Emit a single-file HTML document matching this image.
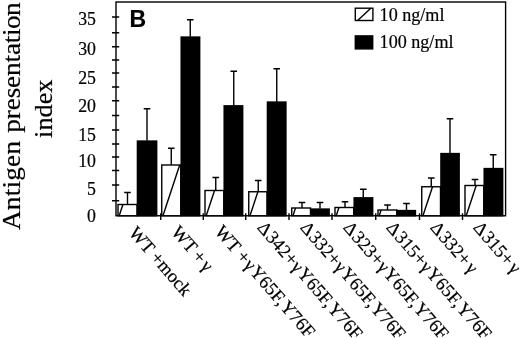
<!DOCTYPE html>
<html lang="en"><head><meta charset="utf-8"><title>Antigen presentation index</title>
<style>html,body{margin:0;padding:0;background:#fff}svg{display:block}text{font-family:"Liberation Serif","DejaVu Serif",serif;fill:#000;stroke:#000;stroke-width:.2px}.b{font-family:"Liberation Sans","DejaVu Sans",sans-serif;font-weight:bold}</style></head><body>
<svg width="520" height="338" viewBox="0 0 520 338">
<rect width="520" height="338" fill="#fff"/>
<g fill="none" stroke="#000" stroke-width="1.4">
<rect x="116.0" y="2.0" width="389.6" height="213.75"/>
<path d="M112 17H119.2M112 32.75H119.2M112 46.75H119.2M112 60H119.2M112 73H119.2M112 87H119.2M112 100.75H119.2M112 115.5H119.2M112 130H119.2M112 144H119.2M112 157H119.2M112 170.5H119.2M112 185H119.2M112 200.75H119.2M160.75 213.2V220M203.25 213.2V220M245.75 213.2V220M289 213.2V220M332 213.2V220M375.75 213.2V220M419.5 213.2V220M462.5 213.2V220"/>
</g>
<g stroke="#000" stroke-width="1.4">
<path fill="none" d="M127.5 204.5V192.5M124.2 192.5H130.8M147 140.75V108.75M143.7 108.75H150.3"/>
<rect x="118" y="204.5" width="19" height="11.25" fill="#fff"/>
<path fill="none" d="M119.2 215.75L122.91 204.5"/>
<rect x="136.7" y="140.35" width="20.7" height="76.1" fill="#000" stroke="none"/>
<path fill="none" d="M171.25 165V148.25M167.95 148.25H174.55M190.25 36.75V19.75M186.95 19.75H193.55"/>
<rect x="161.75" y="165" width="19.0" height="50.75" fill="#fff"/>
<path fill="none" d="M162.95 215.75L179.70 165"/>
<rect x="180.45" y="36.35" width="19.95" height="180.1" fill="#000" stroke="none"/>
<path fill="none" d="M215.75 190.5V177.5M212.45 177.5H219.05M233.75 105.5V71.25M230.45 71.25H237.05"/>
<rect x="205" y="190.5" width="18.75" height="25.25" fill="#fff"/>
<path fill="none" d="M206.2 215.75L214.53 190.5"/>
<rect x="223.45" y="105.1" width="19.95" height="111.35" fill="#000" stroke="none"/>
<path fill="none" d="M258.25 191.75V180.5M254.95 180.5H261.55M276.75 101.75V68.75M273.45 68.75H280.05"/>
<rect x="248.75" y="191.75" width="18.25" height="24.0" fill="#fff"/>
<path fill="none" d="M249.95 215.75L257.87 191.75"/>
<rect x="266.7" y="101.35" width="19.95" height="115.1" fill="#000" stroke="none"/>
<path fill="none" d="M302 208V202.5M298.7 202.5H305.3M320 208.75V202.5M316.7 202.5H323.3"/>
<rect x="291.75" y="208" width="18.75" height="7.75" fill="#fff"/>
<path fill="none" d="M292.95 215.75L295.51 208"/>
<rect x="310.2" y="208.35" width="19.7" height="8.1" fill="#000" stroke="none"/>
<path fill="none" d="M345 207.5V201.75M341.7 201.75H348.3M363.25 197.5V189.25M359.95 189.25H366.55"/>
<rect x="335" y="207.5" width="18.75" height="8.25" fill="#fff"/>
<path fill="none" d="M336.2 215.75L338.92 207.5"/>
<rect x="353.45" y="197.1" width="19.95" height="19.35" fill="#000" stroke="none"/>
<path fill="none" d="M387.5 210V205M384.2 205H390.8M406.5 210.25V203.5M403.2 203.5H409.8"/>
<rect x="378" y="210" width="18.75" height="5.75" fill="#fff"/>
<path fill="none" d="M379.2 215.75L381.10 210"/>
<rect x="396.45" y="209.85" width="19.7" height="6.6" fill="#000" stroke="none"/>
<path fill="none" d="M431.25 186.75V178M427.95 178H434.55M450 153.25V118.75M446.7 118.75H453.3"/>
<rect x="421.75" y="186.75" width="18.75" height="29.0" fill="#fff"/>
<path fill="none" d="M422.95 215.75L432.52 186.75"/>
<rect x="440.2" y="152.85" width="19.7" height="63.6" fill="#000" stroke="none"/>
<path fill="none" d="M475 185.5V179.5M471.7 179.5H478.3M493.25 168.25V154.75M489.95 154.75H496.55"/>
<rect x="465" y="185.5" width="18.75" height="30.25" fill="#fff"/>
<path fill="none" d="M466.2 215.75L476.18 185.5"/>
<rect x="483.45" y="167.85" width="19.95" height="48.6" fill="#000" stroke="none"/>
</g>
<g stroke="#000" stroke-width="1.4"><rect x="355.3" y="8.2" width="17.6" height="12.3" fill="#fff"/><path d="M357.6 20.5L370.8 8.2" fill="none"/><rect x="355.3" y="35.9" width="17.4" height="13" fill="#000"/></g>
<text x="379.6" y="20.5" font-size="18.1">10 ng/ml</text>
<text x="379.6" y="48" font-size="18.1">100 ng/ml</text>
<text class="b" x="129.6" y="27.2" font-size="23">B</text>
<text x="96" y="25.1" font-size="17.8" text-anchor="end">35</text>
<text x="96" y="55.4" font-size="17.8" text-anchor="end">30</text>
<text x="96" y="83.6" font-size="17.8" text-anchor="end">25</text>
<text x="96" y="111.7" font-size="17.8" text-anchor="end">20</text>
<text x="96" y="140.5" font-size="17.8" text-anchor="end">15</text>
<text x="96" y="167.3" font-size="17.8" text-anchor="end">10</text>
<text x="96" y="195.1" font-size="17.8" text-anchor="end">5</text>
<text x="96" y="222" font-size="17.8" text-anchor="end">0</text>
<text transform="translate(20,230.1) rotate(-90) scale(1,0.9)" font-size="27.2" dx="0 0.25 0.25 0.25 0.25 0.25 0.25 0.25 1.25 -0.14 -0.14 -0.14 -0.14 -0.14 -0.14 -0.14 -0.14 -0.5 -0.5 -0.5">Antigen presentation</text>
<text transform="translate(52.3,137.9) rotate(-90) scale(1,0.98)" font-size="26.3">index</text>
<text transform="translate(128,233.3) rotate(49)" font-size="18.5">WT +mock</text>
<text transform="translate(170.5,232.5) rotate(49)" font-size="18.5" dx="0 0 0 -1 2.5">WT +γ</text>
<text transform="translate(214,232) rotate(49)" font-size="18.5" dx="0 0 0 0 0.8 1 0 0 0 0 0.8">WT +γY65F,Y76F</text>
<text transform="translate(256.5,228) rotate(49)" font-size="18.5" dx="0 1 0 0 0 0.8 1 0 0 0 0 0.8">Δ342+γY65F,Y76F</text>
<text transform="translate(299.5,228) rotate(49)" font-size="18.5" dx="0 1 0 0 0 0.8 1 0 0 0 0 0.8">Δ332+γY65F,Y76F</text>
<text transform="translate(342.5,228) rotate(49)" font-size="18.5" dx="0 1 0 0 0 0.8 1 0 0 0 0 0.8">Δ323+γY65F,Y76F</text>
<text transform="translate(385.5,228) rotate(49)" font-size="18.5" dx="0 1 0 0 0 0.8 1 0 0 0 0 0.8">Δ315+γY65F,Y76F</text>
<text transform="translate(429.5,228) rotate(49)" font-size="18.5" dx="0 1 0 0 0 2.5">Δ332+γ</text>
<text transform="translate(472.5,228) rotate(49)" font-size="18.5" dx="0 1 0 0 0 2.5">Δ315+γ</text>
</svg></body></html>
